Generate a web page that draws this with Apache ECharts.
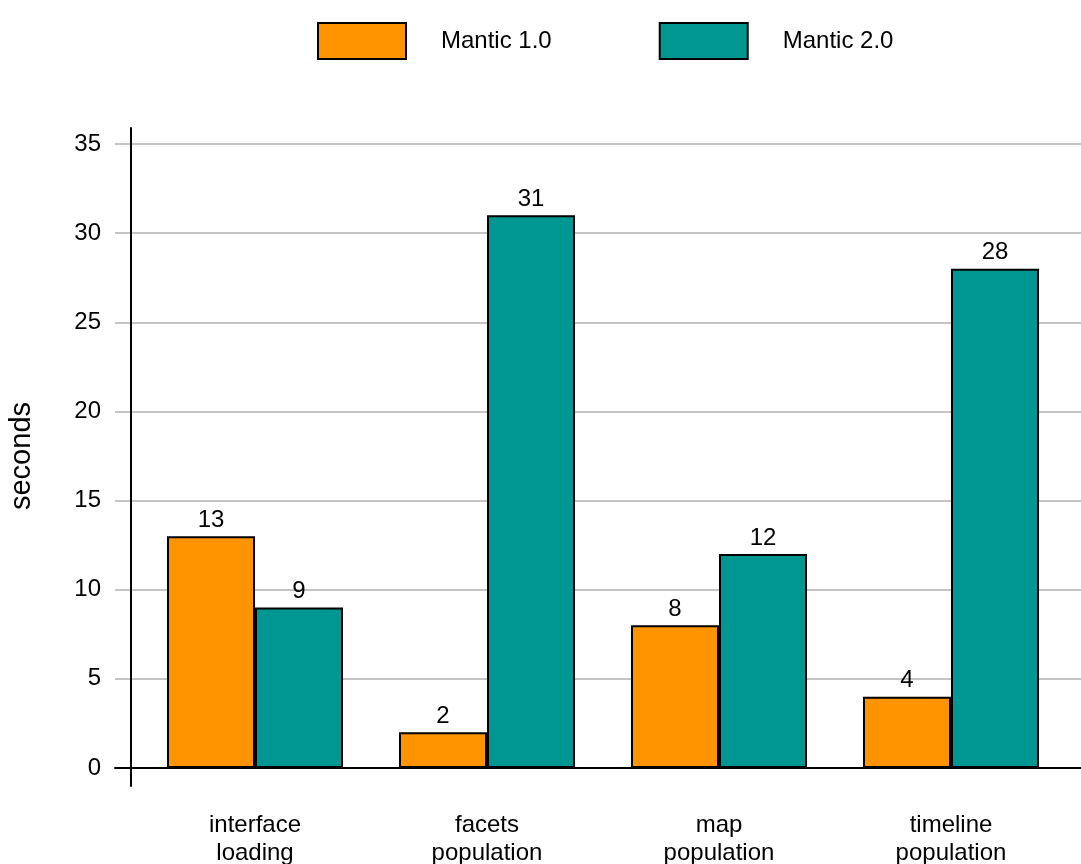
<!DOCTYPE html>
<html>
<head>
<meta charset="utf-8">
<script src="https://cdn.jsdelivr.net/npm/echarts@6/dist/echarts.min.js"></script>
<style>
  html, body { margin: 0; padding: 0; background: #fff; }
  #chart { width: 1081px; height: 864px; }
</style>
</head>
<body>
<div id="chart"></div>
<script>
// Load times per task, in seconds
const categories = ['interface\nloading', 'facets\npopulation', 'map\npopulation', 'timeline\npopulation'];
const seriesNames = ['Mantic 1.0', 'Mantic 2.0'];
const mantic1 = [13, 2, 8, 4];
const mantic2 = [9, 31, 12, 28];
const yTicks = [0, 5, 10, 15, 20, 25, 30, 35];

const FONT = '"Liberation Sans", Arial, Helvetica, sans-serif';
const ORANGE = '#FF9400';
const TEAL = '#009691';

const chart = echarts.init(document.getElementById('chart'), null, { renderer: 'canvas' });

const yMin = yTicks[0];
const yMax = yTicks[yTicks.length - 1];
const yStep = yTicks[1] - yTicks[0];

const valueLabel = {
  show: true, position: 'top', distance: 4,
  fontFamily: FONT, fontSize: 24, color: '#000'
};

chart.setOption({
  animation: false,
  backgroundColor: '#ffffff',
  textStyle: { fontFamily: FONT },
  legend: {
    data: seriesNames,
    icon: 'rect',
    left: 312,
    top: 17,
    itemWidth: 88,
    itemHeight: 36,
    itemGap: 107,
    textStyle: { fontFamily: FONT, fontSize: 24, color: '#000', padding: [0, 0, 0, 30] },
    selectedMode: false
  },
  grid: [
    // background grid: gridlines and zero line across the full width
    { left: 115, right: 0, top: 144, bottom: 96, containLabel: false, outerBoundsMode: 'none' },
    // plotting grid for the bars
    { left: 139, right: 14, top: 144, bottom: 96, containLabel: false, outerBoundsMode: 'none' },
    // vertical axis line, slightly taller than the plot
    { left: 131, width: 1, top: 128, bottom: 78, containLabel: false, outerBoundsMode: 'none' }
  ],
  xAxis: [
    {
      gridIndex: 0, type: 'category', data: categories,
      axisLine: { show: true, lineStyle: { color: '#000', width: 2 } },
      axisTick: { show: false }, axisLabel: { show: false }, splitLine: { show: false }
    },
    {
      gridIndex: 1, type: 'category', data: categories,
      axisLine: { show: false }, axisTick: { show: false },
      axisLabel: { fontFamily: FONT, fontSize: 24, color: '#000', margin: 43, lineHeight: 28 }
    },
    {
      gridIndex: 2, type: 'category', data: [''],
      axisLine: { show: false }, axisTick: { show: false }, axisLabel: { show: false }
    }
  ],
  yAxis: [
    {
      gridIndex: 0, type: 'value', min: yMin, max: yMax, interval: yStep,
      axisLine: { show: false }, axisTick: { show: false },
      axisLabel: { fontFamily: FONT, fontSize: 24, color: '#000', margin: 14 },
      splitLine: { show: true, lineStyle: { color: '#c4c4c4', width: 2 } },
      name: 'seconds', nameLocation: 'middle', nameGap: 79,
      nameTextStyle: { fontFamily: FONT, fontSize: 29, color: '#000' }
    },
    {
      gridIndex: 1, type: 'value', min: yMin, max: yMax, interval: yStep,
      axisLine: { show: false }, axisTick: { show: false },
      axisLabel: { show: false }, splitLine: { show: false }
    },
    {
      gridIndex: 2, type: 'value', min: 0, max: 1,
      axisLine: { show: true, lineStyle: { color: '#000', width: 2 } },
      axisTick: { show: false }, axisLabel: { show: false }, splitLine: { show: false }
    }
  ],
  series: [
    {
      name: seriesNames[0], type: 'bar', xAxisIndex: 1, yAxisIndex: 1,
      data: mantic1, barWidth: 88, barGap: '0%',
      itemStyle: { color: ORANGE, borderColor: '#000', borderWidth: 2 },
      label: valueLabel
    },
    {
      name: seriesNames[1], type: 'bar', xAxisIndex: 1, yAxisIndex: 1,
      data: mantic2, barWidth: 88, barGap: '0%',
      itemStyle: { color: TEAL, borderColor: '#000', borderWidth: 2 },
      label: valueLabel
    }
  ]
});
</script>
</body>
</html>
